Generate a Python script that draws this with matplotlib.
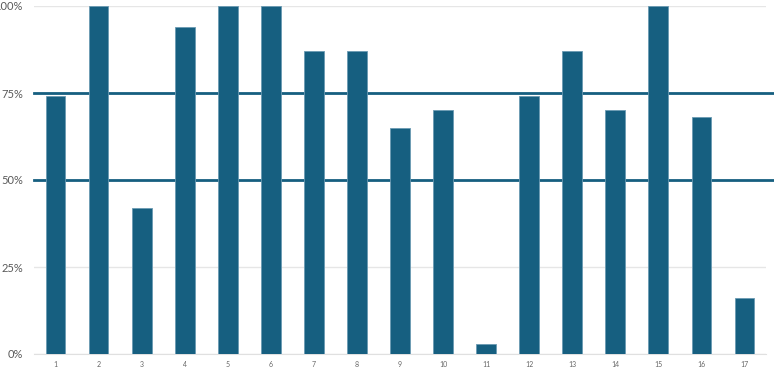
import matplotlib.pyplot as plt
from matplotlib.ticker import PercentFormatter

labels = [str(i) for i in range(1, 18)]
values = [74, 100, 42, 94, 100, 100, 87, 87, 65, 70, 3, 74, 87, 70, 100, 68, 16]
ref_lines = [75, 50]

bar_color = '#165f80'
plt.rcParams['font.family'] = ['Lato', 'DejaVu Sans']

fig = plt.figure(figsize=(7.74, 3.69), dpi=100)
ax = fig.add_axes([34 / 774, 1 - 354 / 369, (766 - 34) / 774, 348 / 369])

x = range(len(values))
ax.bar(x, values, width=0.46, color=bar_color, edgecolor='#6a9ab3', linewidth=0.6, zorder=3)

for y in ref_lines:
    ax.axhline(y, xmin=0, xmax=(774 - 34) / (766 - 34), color=bar_color, lw=2, zorder=2, clip_on=False)

ax.set_xlim(-0.5, len(values) - 0.5)
ax.set_ylim(0, 100)
ax.set_yticks([0, 25, 50, 75, 100])
ax.yaxis.set_major_formatter(PercentFormatter(decimals=0))
ax.set_xticks(list(x))
ax.set_xticklabels(labels)
ax.grid(axis='y', color='#e6e6e6', lw=1, zorder=0)
for s in ['top', 'right', 'left']:
    ax.spines[s].set_visible(False)
ax.spines['bottom'].set_color('#e0e0e0')
ax.tick_params(axis='y', length=0, labelsize=8, labelcolor='#595959', pad=8)
ax.tick_params(axis='x', length=0, labelsize=5, labelcolor='#666666', pad=5)

fig.savefig('out.png', dpi=100)
